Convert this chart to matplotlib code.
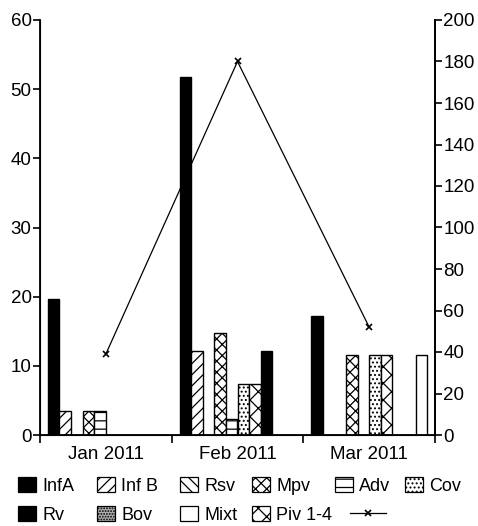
import matplotlib
matplotlib.use("Agg")
import matplotlib.pyplot as plt
import numpy as np
from matplotlib.patches import Patch
from matplotlib.lines import Line2D

plt.rcParams['font.family'] = ['Liberation Sans', 'DejaVu Sans']
plt.rcParams['hatch.linewidth'] = 0.9

months = ["Jan 2011", "Feb 2011", "Mar 2011"]
# bar order within each month group as drawn in chart
series = ["InfA", "Inf B", "Rsv", "Mpv", "Adv", "Cov", "Piv 1-4", "Rv", "Bov", "Mixt"]
InfA = [19.6, 51.7, 17.2]
InfB = [3.4, 12.2, 0]
Rsv = [0, 0, 0]
Mpv = [3.4, 14.8, 11.5]
Adv = [3.4, 2.3, 0]
Cov = [0, 7.4, 11.5]
Piv = [0, 7.4, 11.5]
Rv = [0, 12.2, 0]
Bov = [0, 0, 0]
Mixt = [0, 0, 11.5]
values = [InfA, InfB, Rsv, Mpv, Adv, Cov, Piv, Rv, Bov, Mixt]
line_vals = [39, 180, 52]

legend_row1 = ["InfA", "Inf B", "Rsv", "Mpv", "Adv", "Cov"]
legend_row2 = ["Rv", "Bov", "Mixt", "Piv 1-4"]

styles = {
    "InfA": dict(facecolor="black", hatch=None),
    "Inf B": dict(facecolor="white", hatch="///"),
    "Rsv": dict(facecolor="white", hatch="\\\\\\"),
    "Mpv": dict(facecolor="white", hatch="xxx"),
    "Adv": dict(facecolor="white", hatch="--"),
    "Cov": dict(facecolor="white", hatch="...."),
    "Piv 1-4": dict(facecolor="white", hatch="xx"),
    "Rv": dict(facecolor="black", hatch=None),
    "Bov": dict(facecolor="#b0b0b0", hatch="......"),
    "Mixt": dict(facecolor="white", hatch=None),
}

FS = 13.5
LFS = 13
fig = plt.figure(figsize=(4.78, 5.26), dpi=100)
ax = fig.add_axes([40/478, 1-435/526, 395/478, 415/526])
x = np.arange(len(months))
w = 0.088
pad = 0.06
for k, (name, vals) in enumerate(zip(series, values)):
    st = styles[name]
    pos = x - 0.5 + pad + (k + 0.5) * w
    ax.bar(pos, vals, width=w, facecolor=st["facecolor"], hatch=st["hatch"],
           edgecolor="black", linewidth=1.0, zorder=2)

ax.set_xlim(-0.5, 2.5)
ax.set_ylim(0, 60)
ax.set_yticks(range(0, 61, 10))
ax.set_xticks([-0.5, 0.5, 1.5, 2.5])
ax.set_xticklabels([])
ax.set_xticks(x, minor=True)
ax.set_xticklabels(months, minor=True)
ax.tick_params(axis='x', which='major', direction='out', length=6, width=1.2)
ax.tick_params(axis='x', which='minor', length=0, pad=8, labelsize=FS)
ax.tick_params(axis='y', direction='out', length=5, width=1.2, labelsize=FS, pad=1)
ax.spines['top'].set_visible(False)
for s in ['left', 'right', 'bottom']:
    ax.spines[s].set_linewidth(1.3)

ax2 = ax.twinx()
ax2.plot(x, line_vals, color="black", linewidth=0.9, marker="x", markersize=5,
         markeredgewidth=1.2, zorder=3)
ax2.set_ylim(0, 200)
ax2.set_yticks(range(0, 201, 20))
ax2.tick_params(axis='y', direction='out', length=5, width=1.2, labelsize=FS, pad=1)
ax2.spines['top'].set_visible(False)
ax2.spines['right'].set_linewidth(1.3)


def mk(name):
    st = styles[name]
    return Patch(facecolor=st["facecolor"], hatch=st["hatch"], edgecolor="black", linewidth=0.9)


def entry(handle, label, xpx, ypx, hl=1.0):
    fig.legend([handle], [label], loc="center left",
               bbox_to_anchor=(xpx/478, 1-ypx/526), frameon=False, fontsize=LFS,
               handlelength=hl, handleheight=0.88, handletextpad=0.33,
               borderpad=0, borderaxespad=0)


row1_x = [18, 97, 180, 252, 335, 405]
row2_x = [18, 97, 180, 252]
for name, xp in zip(legend_row1, row1_x):
    entry(mk(name), name, xp, 486)
for name, xp in zip(legend_row2, row2_x):
    entry(mk(name), name, xp, 515)
entry(Line2D([0], [0], color="black", linewidth=0.9, marker="x", markersize=5,
             markeredgewidth=1.2), "", 350, 515, hl=2.0)

fig.savefig("out.png", dpi=100)
